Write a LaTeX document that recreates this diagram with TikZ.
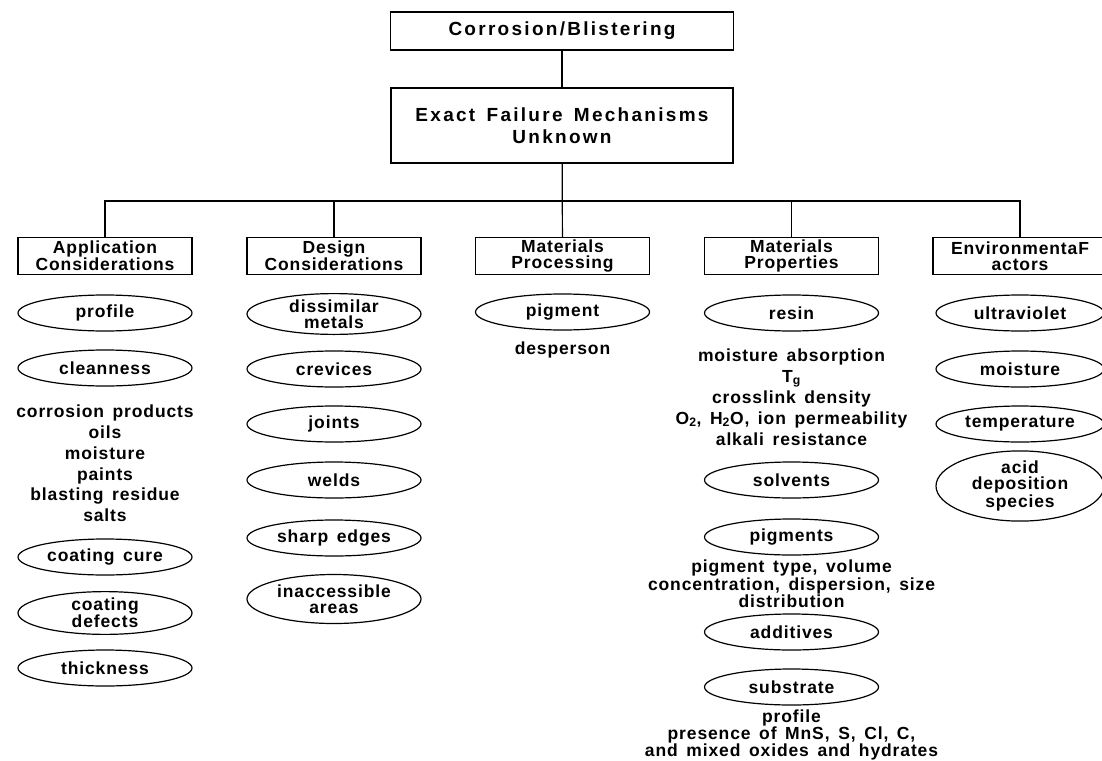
\documentclass[tikz,border=0pt]{standalone}
\usepackage{fontspec}
\setmainfont{Liberation Sans}[LetterSpace=5,WordSpace=1.5]
\usetikzlibrary{shapes.geometric}
\tikzset{
  line/.style={line width=1.2pt, black},
  topbox/.style={draw, line width=1.3pt, inner sep=0pt, align=center,
    font=\fontsize{19}{22}\selectfont\bfseries\addfontfeatures{LetterSpace=12}},
  catbox/.style={draw, line width=1.3pt, minimum width=174pt, minimum height=37pt,
    inner sep=0pt, align=center, font=\fontsize{17.5}{16}\selectfont\bfseries},
  oval/.style={ellipse, draw, line width=1.2pt, minimum width=174pt, minimum height=36pt,
    inner sep=0pt, align=center, font=\fontsize{17.5}{16}\selectfont\bfseries},
  envoval/.style={oval, minimum width=168pt},
  lst/.style={align=center, inner sep=0pt, font=\fontsize{17.5}{20.8}\selectfont\bfseries},
  tightlst/.style={align=center, inner sep=0pt, font=\fontsize{17.5}{15.3}\selectfont\bfseries},
}
\begin{document}
\begin{tikzpicture}[x=1pt,y=-1pt]
\useasboundingbox (0,0) rectangle (1102,760);
\clip (0,0) rectangle (1102,760);
% top
\node[topbox, minimum width=343pt, minimum height=38pt] (top) at (562,31) {Corrosion/Blistering};
\node[topbox, minimum width=342pt, minimum height=75pt] (mech) at (562,125.5) {Exact Failure Mechanisms\\Unknown};
% categories
\node[catbox] (app) at (105,256) {Application\\Considerations};
\node[catbox] (des) at (334,256) {Design\\Considerations};
\node[catbox] (proc) at (562.5,256) {Materials\\Processing};
\node[catbox] (prop) at (791.5,256) {Materials\\Properties};
\node[catbox] (env) at (1020,256) {EnvironmentaF\\actors};
\coordinate (j) at (562.5,201);
% connectors
\draw[line] (top) -- (mech);
\draw[line] (mech) -- (proc);
\draw[line] (app.north) |- (j) -| (env.north);
\draw[line] (des.north) -- (des.north |- j);
\draw[line] (prop.north) -- (prop.north |- j);
% application column
\node[oval] (a1) at (105,313) {profile};
\node[oval] (a2) at (105,368) {cleanness};
\node[lst] (a2t) at (105,463.5) {corrosion products\\oils\\moisture\\paints\\blasting residue\\salts};
\node[oval] (a3) at (105,557) {coating cure};
\node[oval] (a4) at (105,613) {coating\\defects};
\node[oval] (a5) at (105,668) {thickness};
% design column
\node[oval, minimum height=38pt] (d1) at (334,314) {dissimilar\\metals};
\node[oval] (d2) at (334,369) {crevices};
\node[oval] (d3) at (334,424) {joints};
\node[oval] (d4) at (334,480) {welds};
\node[oval] (d5) at (334,538) {sharp edges};
\node[oval, minimum height=49pt] (d6) at (334,599) {inaccessible\\areas};
% processing column
\node[oval] (p1) at (562.5,312) {pigment};
\node[lst] (p1t) at (562.5,350) {desperson};
% properties column
\node[oval] (m1) at (791.5,313) {resin};
\node[lst, font=\fontsize{17.5}{21}\selectfont\bfseries] (m1t) at (791.5,397)
  {moisture absorption\\T\textsubscript{g}\\crosslink density\\O\textsubscript{2}, H\textsubscript{2}O, ion permeability\\alkali resistance};
\node[oval] (m2) at (791.5,480) {solvents};
\node[oval] (m3) at (791.5,537) {pigments};
\node[tightlst] (m3t) at (791.5,584) {pigment type, volume\\concentration, dispersion, size\\distribution};
\node[oval] (m4) at (791.5,632) {additives};
\node[oval] (m5) at (791.5,687) {substrate};
\node[tightlst, font=\fontsize{17.5}{15}\selectfont\bfseries] (m5t) at (791.5,735) {profile\\presence of MnS, S, Cl, C,\\and mixed oxides and hydrates};
% environmental column
\node[envoval] (e1) at (1020,313) {ultraviolet};
\node[envoval] (e2) at (1020,369) {moisture};
\node[envoval] (e3) at (1020,424) {temperature};
\node[envoval, minimum height=55pt] (e4) at (1020,486) {acid\\deposition\\species};
\end{tikzpicture}
\end{document}
